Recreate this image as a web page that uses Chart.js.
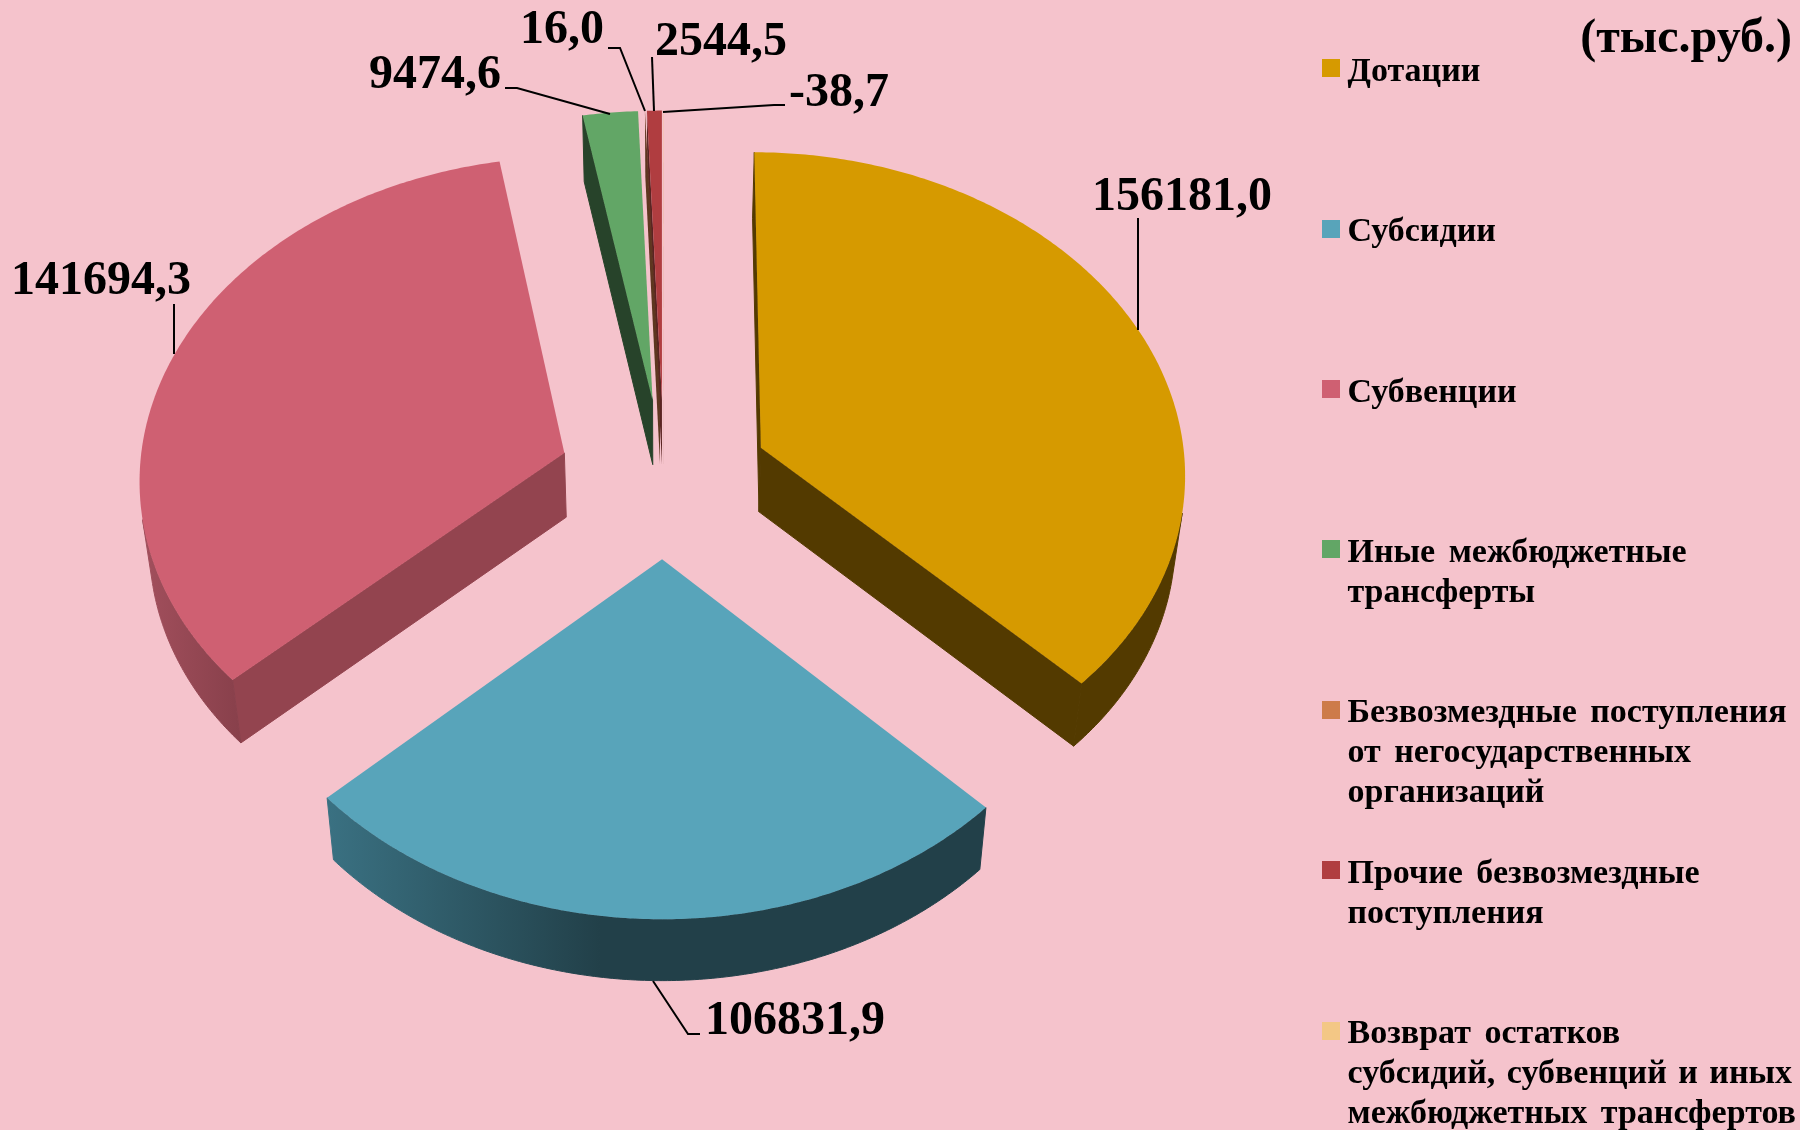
<!DOCTYPE html>
<html><head><meta charset="utf-8">
<style>html,body{margin:0;padding:0;background:#F5C3CC;overflow:hidden}canvas{display:block}</style>
<script src="https://cdn.jsdelivr.net/npm/chart.js@4"></script>
</head><body><canvas id="c" width="1800" height="1130"></canvas>
<script>
const categories = ["Дотации","Субсидии","Субвенции","Иные межбюджетные трансферты","Безвозмездные поступления от негосударственных организаций","Прочие безвозмездные поступления","Возврат остатков субсидий, субвенций и иных межбюджетных трансфертов"];
const values = [156181.0,106831.9,141694.3,9474.6,16.0,2544.5,-38.7];
const unitLabel = "(тыс.руб.)";
const topColors = ["#D69A00","#58A4BA","#CF6072","#62A666","#CD7B4A","#B03D40","#F3C785"];
const wallColors = ["#533A00","#224049","#93444F","#27432A","#5E3620","#5A2422","#8a6f48"];
const outerFrom = ["#533A00","#3A7182","#A04E5B","#27432A","#5E3620","#5A2422","#8a6f48"];
const outerTo = ["#533A00","#224049","#88404B","#27432A","#5E3620","#5A2422","#8a6f48"];

const legendLines = [["Дотации"],["Субсидии"],["Субвенции"],["Иные межбюджетные","трансферты"],["Безвозмездные поступления","от негосударственных","организаций"],["Прочие безвозмездные","поступления"],["Возврат остатков","субсидий, субвенций и иных","межбюджетных трансфертов"]];
const legendLayout = {boxX:1322,box:18,textX:1347.5,lineH:40,font:'bold 34px "Liberation Serif"',
  boxY:[59,220,380,540,701,861,1022],base:[81,241,402,562,722,883,1043]};
const labelLayout = [
  {x:1092,y:210,leader:[[1138,218],[1138,330]]},
  {x:705,y:1034,leader:[[653,981],[688,1034],[700,1034]]},
  {x:11,y:294,leader:[[174,304],[174,354]]},
  {x:369,y:88,leader:[[505,88],[517,88],[610,114]]},
  {x:520,y:43,leader:[[608,48],[620,48],[645,111]]},
  {x:655,y:55,leader:[[652,57],[654,111]]},
  {x:789,y:106,leader:[[785,105],[774,105],[663,112]]}
];
const view = {cx:664,cy:478,R:425.5,sy:0.755,persp:0.000172,depth:64,shrink:0.981};

function project(u,v,low){
  const w = 1/(1-view.persp*v);
  let X = view.cx+u*w, Y = view.cy+view.sy*v*w;
  if(low){ X = view.cx+(X-view.cx)*view.shrink; Y = Y+view.depth-(Y-view.cy)*0.006; }
  return [X,Y];
}
function poly(ctx,pts){ctx.beginPath();pts.forEach((p,i)=>i?ctx.lineTo(p[0],p[1]):ctx.moveTo(p[0],p[1]));ctx.closePath();}
function area(q){let s=0;for(let i=0;i<q.length;i++){const a=q[i],b=q[(i+1)%q.length];s+=a[0]*b[1]-b[0]*a[1];}return s;}

const pie3d = {
  id:'pie3d',
  beforeDatasetsDraw(chart){
    const ctx = chart.ctx, arcs = chart.getDatasetMeta(0).data;
    const order = arcs.map((a,i)=>i).sort((i,j)=>{
      const m=k=>Math.sin((arcs[k].startAngle+arcs[k].endAngle)/2);return m(i)-m(j);});
    order.forEach(i=>{
      const a = arcs[i], a0=a.startAngle, a1=a.endAngle, mid=(a0+a1)/2, e=a.options.offset;
      const ou=e*Math.cos(mid), ov=e*Math.sin(mid);
      const n=Math.max(2,Math.ceil((a1-a0)/0.01));
      const ring=[];
      for(let k=0;k<=n;k++){const t=a0+(a1-a0)*k/n;ring.push([ou+view.R*Math.cos(t),ov+view.R*Math.sin(t)]);}
      const top=[[ou,ov],...ring].map(p=>project(p[0],p[1],false));
      const low=[[ou,ov],...ring].map(p=>project(p[0],p[1],true));
      const grad=ctx.createLinearGradient(i===1?327:150,0,i===1?600:240,0);
      grad.addColorStop(0,outerFrom[i]);grad.addColorStop(1,outerTo[i]);
      const L=top.length, big=(a1-a0)>0.05;
      const paint=(col)=>{ctx.fillStyle=col;ctx.fill();if(big){ctx.strokeStyle=col;ctx.lineWidth=1;ctx.stroke();}};
      [[0,1],[L-1,0]].forEach(([k,m])=>{
        const q=[top[k],top[m],low[m],low[k]];
        if(area(q)<0){poly(ctx,q);paint(wallColors[i]);}
      });
      let run=[];
      const flush=()=>{
        if(run.length){
          const up=[],dn=[];
          run.forEach(k=>{up.push(top[k]);dn.push(low[k]);});
          up.push(top[run[run.length-1]+1]);dn.push(low[run[run.length-1]+1]);
          poly(ctx,up.concat(dn.reverse()));paint(grad);
        }
        run=[];
      };
      for(let k=1;k<L-1;k++){
        const q=[top[k],top[k+1],low[k+1],low[k]];
        if(area(q)<0)run.push(k);else flush();
      }
      flush();
      poly(ctx,top);ctx.fillStyle=a.options.backgroundColor;ctx.fill();
    });
    return false;
  },
  afterDraw(chart){
    const ctx=chart.ctx;
    ctx.save();
    ctx.fillStyle='#000';ctx.strokeStyle='#000';ctx.lineWidth=2;ctx.textAlign='left';ctx.textBaseline='alphabetic';
    labelLayout.forEach((l,i)=>{
      ctx.beginPath();l.leader.forEach((p,k)=>k?ctx.lineTo(p[0],p[1]):ctx.moveTo(p[0],p[1]));ctx.stroke();
      ctx.font='bold 48px "Liberation Serif"';
      ctx.fillText(values[i].toFixed(1).replace('.',','),l.x,l.y);
    });
    ctx.font='bold 48px "Liberation Serif"';ctx.textAlign='right';
    ctx.fillText(unitLabel,1792,52);
    ctx.textAlign='left';ctx.font=legendLayout.font;
    legendLines.forEach((lines,i)=>{
      ctx.fillStyle=topColors[i];
      ctx.fillRect(legendLayout.boxX,legendLayout.boxY[i],legendLayout.box,legendLayout.box);
      ctx.fillStyle='#000';
      lines.forEach((t,k)=>{
        ctx.wordSpacing=t.split(' ').length>3?'3px':'5px';
        ctx.fillText(t,legendLayout.textX,legendLayout.base[i]+k*legendLayout.lineH);
      });
    });
    ctx.restore();
  }
};
new Chart(document.getElementById('c'),{
  type:'pie',
  data:{labels:categories,datasets:[{data:values,backgroundColor:topColors,borderWidth:0,offset:105.6}]},
  options:{responsive:false,animation:false,events:[],
    plugins:{legend:{display:false},tooltip:{enabled:false},title:{display:false}}},
  plugins:[pie3d]
});
</script></body></html>
